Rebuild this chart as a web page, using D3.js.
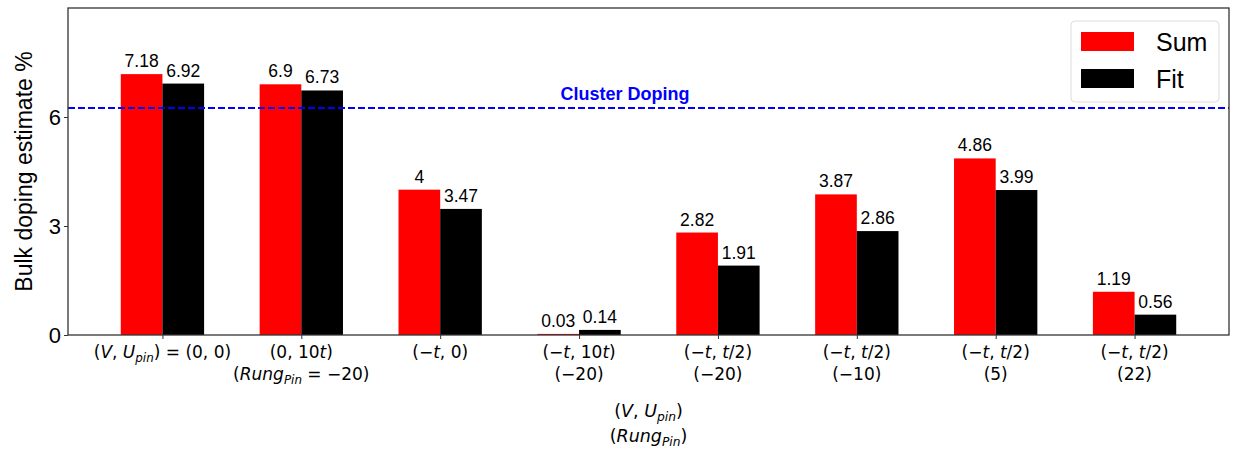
<!DOCTYPE html>
<html>
<head>
<meta charset="utf-8">
<script src="https://cdn.jsdelivr.net/npm/d3@7"></script>
<style>
  body { margin: 0; background: #fff; }
  svg { display: block; }
</style>
</head>
<body>
<svg id="chart" width="1242" height="450"></svg>
<script>
// Tick label lines (markup: *x* = italic, _x_ = italic subscript)
const categoryLine1 = [
  "(*V*, *U*_pin_) = (0, 0)",
  "(0, 10*t*)",
  "(−*t*, 0)",
  "(−*t*, 10*t*)",
  "(−*t*, *t*/2)",
  "(−*t*, *t*/2)",
  "(−*t*, *t*/2)",
  "(−*t*, *t*/2)"
];
const categoryLine2 = ["", "(*Rung*_Pin_ = −20)", "", "(−20)", "(−20)", "(−10)", "(5)", "(22)"];
const sumValues = [7.18, 6.9, 4, 0.03, 2.82, 3.87, 4.86, 1.19];
const fitValues = [6.92, 6.73, 3.47, 0.14, 1.91, 2.86, 3.99, 0.56];
const yTicks = [0, 3, 6];
const clusterDoping = 6.25;
const seriesNames = ["Sum", "Fit"];
const seriesColors = ["#ff0000", "#000000"];

const svg = d3.select("#chart");
const margin = { left: 68, right: 13, top: 8, bottom: 115 };
const W = 1242, H = 450;
const x0 = margin.left, x1 = W - margin.right;
const y0 = H - margin.bottom, y1 = margin.top;

const barW = 0.3;
const x = d3.scaleLinear().domain([-0.68, 7.68]).range([x0, x1]);
const y = d3.scaleLinear().domain([0, 9]).range([y0, y1]);

const mathFont = "'DejaVu Sans', sans-serif";
const textFont = "'Liberation Sans', Arial, sans-serif";

// Bars with their value labels
const series = [sumValues, fitValues];
series.forEach((vals, s) => {
  const off = s === 0 ? -barW : 0;
  svg.append("g").selectAll("rect").data(vals).join("rect")
    .attr("x", (d, i) => x(i + off))
    .attr("width", x(barW) - x(0))
    .attr("y", d => y(d))
    .attr("height", d => y(0) - y(d))
    .attr("fill", seriesColors[s]);
  svg.append("g").selectAll("text").data(vals).join("text")
    .attr("x", (d, i) => x(i + off + barW / 2))
    .attr("y", d => y(d) - 7)
    .attr("text-anchor", "middle")
    .attr("font-family", textFont)
    .attr("font-size", 17.5)
    .attr("fill", "#000")
    .text(d => String(d));
});

// Cluster doping reference line
svg.append("line")
  .attr("x1", x0).attr("x2", x1)
  .attr("y1", y(clusterDoping)).attr("y2", y(clusterDoping))
  .attr("stroke", "#0000ff").attr("stroke-width", 2)
  .attr("stroke-dasharray", "7,3");
svg.append("text")
  .attr("x", x(3.33)).attr("y", y(clusterDoping) - 8)
  .attr("text-anchor", "middle")
  .attr("font-family", textFont).attr("font-weight", "bold")
  .attr("font-size", 18).attr("fill", "#0000ff")
  .text("Cluster Doping");

// Axes
const xAxis = d3.axisBottom(x).tickValues(d3.range(categoryLine1.length))
  .tickSize(4).tickFormat("");
svg.append("g").attr("transform", `translate(0,${y0})`).call(xAxis)
  .call(g => g.select(".domain").remove())
  .call(g => g.selectAll("line").attr("stroke", "#333"));
const yAxis = d3.axisLeft(y).tickValues(yTicks).tickSize(4).tickFormat(d3.format("d"));
svg.append("g").attr("transform", `translate(${x0},0)`).call(yAxis)
  .call(g => g.select(".domain").remove())
  .call(g => g.selectAll("line").attr("stroke", "#333"))
  .call(g => g.selectAll("text").attr("font-family", textFont).attr("font-size", 22)
    .attr("fill", "#000").attr("x", -7));

// Frame
svg.append("rect")
  .attr("x", x0).attr("y", y1).attr("width", x1 - x0).attr("height", y0 - y1)
  .attr("fill", "none").attr("stroke", "#333").attr("stroke-width", 1.3);

// Render a mini-markup string into a text element as tspans
function renderMath(textSel, str, size) {
  const re = /(\*[^*]+\*|_[^_]+_)/g;
  const parts = str.split(re).filter(p => p.length);
  let shift = 0;
  parts.forEach(p => {
    let ts;
    if (p.startsWith("*")) {
      ts = textSel.append("tspan").attr("font-style", "italic").text(p.slice(1, -1));
    } else if (p.startsWith("_")) {
      ts = textSel.append("tspan").attr("font-style", "italic")
        .attr("font-size", size * 0.7).text(p.slice(1, -1));
    } else {
      ts = textSel.append("tspan").text(p);
    }
    const target = p.startsWith("_") ? size * 0.25 : 0;
    if (target !== shift) ts.attr("dy", target - shift);
    shift = target;
  });
}

// Category tick labels
const tickSize = 17;
categoryLine1.forEach((lab, i) => {
  const t = svg.append("text")
    .attr("x", x(i)).attr("y", y0 + 23)
    .attr("text-anchor", "middle")
    .attr("font-family", mathFont).attr("font-size", tickSize).attr("fill", "#000");
  renderMath(t, lab, tickSize);
  if (categoryLine2[i]) {
    const t2 = svg.append("text")
      .attr("x", x(i)).attr("y", y0 + 45)
      .attr("text-anchor", "middle")
      .attr("font-family", mathFont).attr("font-size", tickSize).attr("fill", "#000");
    renderMath(t2, categoryLine2[i], tickSize);
  }
});

// Axis titles
const xt1 = svg.append("text").attr("x", (x0 + x1) / 2).attr("y", 417)
  .attr("text-anchor", "middle").attr("font-family", mathFont).attr("font-size", 17.5);
renderMath(xt1, "(*V*, *U*_pin_)", 17.5);
const xt2 = svg.append("text").attr("x", (x0 + x1) / 2).attr("y", 442)
  .attr("text-anchor", "middle").attr("font-family", mathFont).attr("font-size", 17.5);
renderMath(xt2, "(*Rung*_Pin_)", 17.5);

svg.append("text")
  .attr("transform", `translate(24,${(y0 + y1) / 2}) rotate(-90)`)
  .attr("text-anchor", "middle").attr("dy", "0.35em")
  .attr("font-family", textFont).attr("font-size", 23)
  .text("Bulk doping estimate %");

// Legend
const lg = svg.append("g").attr("transform", "translate(1071,21)");
lg.append("rect").attr("width", 148).attr("height", 81).attr("rx", 4)
  .attr("fill", "#fff").attr("fill-opacity", 0.8).attr("stroke", "#ddd");
seriesNames.forEach((name, i) => {
  lg.append("rect").attr("x", 10).attr("y", 11 + i * 37).attr("width", 53).attr("height", 19)
    .attr("fill", seriesColors[i]);
  lg.append("text").attr("x", 85).attr("y", 21 + i * 37).attr("dy", "0.35em")
    .attr("font-family", textFont).attr("font-size", 25).text(name);
});
</script>
</body>
</html>
